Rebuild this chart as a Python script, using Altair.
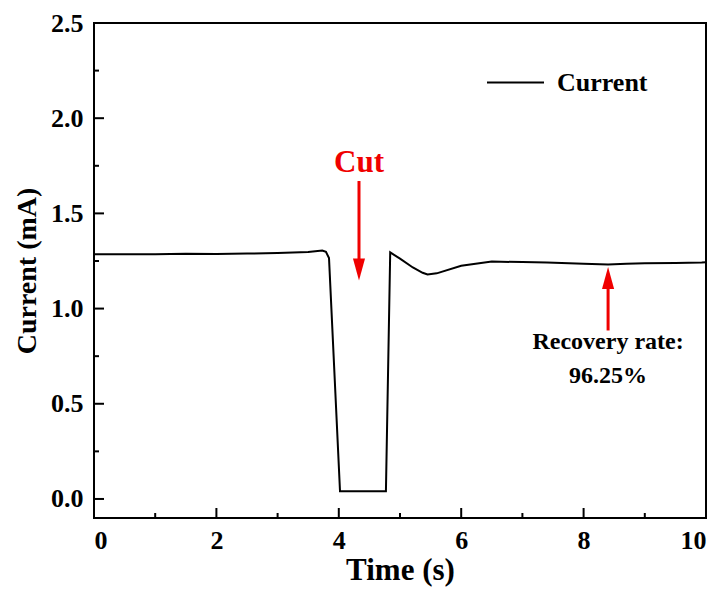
import altair as alt
import pandas as pd

# data
time_s = [0.0, 0.5, 1.0, 1.5, 2.0, 2.5, 3.0, 3.5, 3.73, 3.79, 3.84, 4.02, 4.77, 4.84,
          5.0, 5.21, 5.37, 5.45, 5.6, 6.0, 6.5, 7.0, 7.4, 8.0, 8.4, 8.7, 9.0, 9.5, 9.93, 10.0]
current_ma = [1.285, 1.286, 1.285, 1.288, 1.287, 1.289, 1.292, 1.297, 1.305, 1.298, 1.265, 0.04,
              0.04, 1.295, 1.262, 1.216, 1.188, 1.179, 1.185, 1.225, 1.247, 1.244, 1.242,
              1.236, 1.232, 1.236, 1.238, 1.24, 1.242, 1.243]

x_major = [0, 2, 4, 6, 8, 10]
x_minor = [1, 3, 5, 7, 9]
y_major = [0.0, 0.5, 1.0, 1.5, 2.0, 2.5]
y_minor = [0.25, 0.75, 1.25, 1.75, 2.25]

cut_label = "Cut"
cut_x = 4.33
cut_shaft = [1.67, 1.25]
cut_head = 1.205
cut_text_y = 1.715

rec_lines = ["Recovery rate:", "96.25%"]
rec_text_y = [0.79, 0.61]
rec_x = 8.4
rec_shaft = [0.885, 1.12]
rec_head = 1.16

FONT = "Liberation Serif"
W, H = 612, 495

xs = alt.Scale(domain=[0, 10], nice=False, zero=False)
ys = alt.Scale(domain=[-0.1, 2.5], nice=False, zero=False)

df = pd.DataFrame({"t": time_s, "c": current_ma, "series": "Current"})

line = alt.Chart(df).mark_line(strokeWidth=2).encode(
    x=alt.X("t:Q", scale=xs, title="Time (s)",
            axis=alt.Axis(values=x_major, ticks=False, domain=False, grid=False,
                          labelPadding=9, titlePadding=2, format="d")),
    y=alt.Y("c:Q", scale=ys, title="Current (mA)",
            axis=alt.Axis(values=y_major, ticks=False, domain=False, grid=False,
                          labelPadding=11, titlePadding=9, titleFontSize=28,
                          format=".1f")),
    color=alt.Color("series:N", scale=alt.Scale(range=["black"]),
                    legend=alt.Legend(orient="none", legendX=392, legendY=30, title=None,
                                      symbolType="stroke", symbolSize=3249,
                                      symbolStrokeWidth=2, labelOffset=12,
                                      labelFont=FONT, labelFontSize=26,
                                      labelFontWeight="bold", padding=0)),
)

xmaj = alt.Chart(pd.DataFrame({"t": x_major})).mark_rule(color="black", strokeWidth=2).encode(
    x=alt.X("t:Q", scale=xs), y=alt.value(H), y2=alt.value(H - 10))
xmin = alt.Chart(pd.DataFrame({"t": x_minor})).mark_rule(color="black", strokeWidth=2).encode(
    x=alt.X("t:Q", scale=xs), y=alt.value(H), y2=alt.value(H - 5))
ymaj = alt.Chart(pd.DataFrame({"v": y_major})).mark_rule(color="black", strokeWidth=2).encode(
    y=alt.Y("v:Q", scale=ys), x=alt.value(0), x2=alt.value(10))
ymin = alt.Chart(pd.DataFrame({"v": y_minor})).mark_rule(color="black", strokeWidth=2).encode(
    y=alt.Y("v:Q", scale=ys), x=alt.value(0), x2=alt.value(5))

# Cut arrow
cut_df = pd.DataFrame({"x": [cut_x], "y1": [cut_shaft[0]], "y2": [cut_shaft[1]],
                       "h": [cut_head], "ty": [cut_text_y], "label": [cut_label]})
cut_shaft_m = alt.Chart(cut_df).mark_rule(color="#f00000", strokeWidth=3).encode(
    x=alt.X("x:Q", scale=xs), y=alt.Y("y1:Q", scale=ys), y2="y2:Q")
cut_head_m = alt.Chart(cut_df).mark_point(
    shape="M-0.55,-1L0.55,-1L0,1Z", filled=True, opacity=1, color="#f00000", size=484,
    strokeWidth=0).encode(x=alt.X("x:Q", scale=xs), y=alt.Y("h:Q", scale=ys))
cut_text = alt.Chart(cut_df).mark_text(
    font=FONT, fontSize=31, fontWeight="bold", color="#f00000", baseline="alphabetic",
    align="center").encode(x=alt.X("x:Q", scale=xs), y=alt.Y("ty:Q", scale=ys), text="label:N")

# Recovery arrow
rec_df = pd.DataFrame({"x": [rec_x], "y1": [rec_shaft[0]], "y2": [rec_shaft[1]], "h": [rec_head]})
rec_shaft_m = alt.Chart(rec_df).mark_rule(color="#f00000", strokeWidth=3).encode(
    x=alt.X("x:Q", scale=xs), y=alt.Y("y1:Q", scale=ys), y2="y2:Q")
rec_head_m = alt.Chart(rec_df).mark_point(
    shape="M0,-1L0.55,1L-0.55,1Z", filled=True, opacity=1, color="#f00000", size=484,
    strokeWidth=0).encode(x=alt.X("x:Q", scale=xs), y=alt.Y("h:Q", scale=ys))
rec_text_df = pd.DataFrame({"x": [rec_x, rec_x], "y": rec_text_y, "label": rec_lines})
rec_text = alt.Chart(rec_text_df).mark_text(
    font=FONT, fontSize=24, fontWeight="bold", color="black", baseline="alphabetic",
    align="center").encode(x=alt.X("x:Q", scale=xs), y=alt.Y("y:Q", scale=ys), text="label:N")

chart = alt.layer(
    line, xmaj, xmin, ymaj, ymin,
    cut_shaft_m, cut_head_m, cut_text, rec_shaft_m, rec_head_m, rec_text
).properties(
    width=W, height=H, background="white",
    autosize=alt.AutoSizeParams(type="none"),
    padding={"left": 86, "top": 15, "right": 10, "bottom": 70}
).configure_view(
    stroke="black", strokeWidth=2
).configure_axis(
    labelFont=FONT, labelFontSize=26, labelFontWeight="bold", labelColor="black",
    titleFont=FONT, titleFontSize=31, titleFontWeight="bold", titleColor="black"
)

chart.save("out.html", embed_options={"renderer": "svg", "actions": False})
